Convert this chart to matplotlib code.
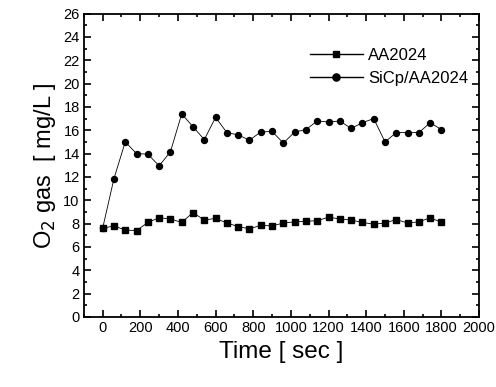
import matplotlib
matplotlib.use('Agg')
import matplotlib.pyplot as plt
from matplotlib.ticker import MultipleLocator

plt.rcParams['font.family'] = ['Liberation Sans', 'DejaVu Sans']

# datos
tiempo = list(range(0, 1801, 60))
aa2024 = [7.6, 7.8, 7.45, 7.4, 8.1, 8.5, 8.4, 8.1, 8.95, 8.3, 8.45, 8.05, 7.75, 7.55,
          7.85, 7.8, 8.05, 8.15, 8.2, 8.25, 8.55, 8.4, 8.3, 8.1, 7.95, 8.05, 8.35,
          8.05, 8.15, 8.5, 8.1]
sicp = [7.6, 11.85, 15.0, 14.0, 13.95, 12.95, 14.15, 17.4, 16.3, 15.2, 17.1, 15.8,
        15.6, 15.15, 15.85, 15.9, 14.9, 15.85, 16.05, 16.8, 16.7, 16.8, 16.15, 16.65,
        17.0, 15.0, 15.8, 15.8, 15.8, 16.65, 16.05]

fig = plt.figure(figsize=(4.96, 3.87), dpi=100)
ax = fig.add_axes([0.169, 0.181, 0.797, 0.784])

ax.plot(tiempo, aa2024, 'ks-', ms=4, lw=0.6, label='AA2024')
ax.plot(tiempo, sicp, 'ko-', ms=4.3, lw=0.6, label='SiCp/AA2024')

ax.set_xlim(-100, 2000)
ax.set_ylim(0, 26)
ax.xaxis.set_major_locator(MultipleLocator(200))
ax.xaxis.set_minor_locator(MultipleLocator(100))
ax.yaxis.set_major_locator(MultipleLocator(2))
ax.yaxis.set_minor_locator(MultipleLocator(1))
ax.tick_params(which='both', direction='in', top=True, right=True, width=1.2)
ax.tick_params(which='major', length=5, labelsize=10.5, pad=3)
ax.tick_params(which='minor', length=2.5)
for s in ax.spines.values():
    s.set_linewidth(1.3)

ax.set_xlabel('Time [ sec ]', fontsize=17.5)
ax.set_ylabel('O$_2$ gas  [ mg/L ]', fontsize=17)

leg = ax.legend(loc='upper right', bbox_to_anchor=(1.01, 0.935), frameon=False,
                fontsize=12, handlelength=3.2, handletextpad=0.3, labelspacing=0.45,
                markerscale=1.2)
for l in leg.get_lines():
    l.set_linewidth(1.0)

fig.savefig('out.png', dpi=100)
